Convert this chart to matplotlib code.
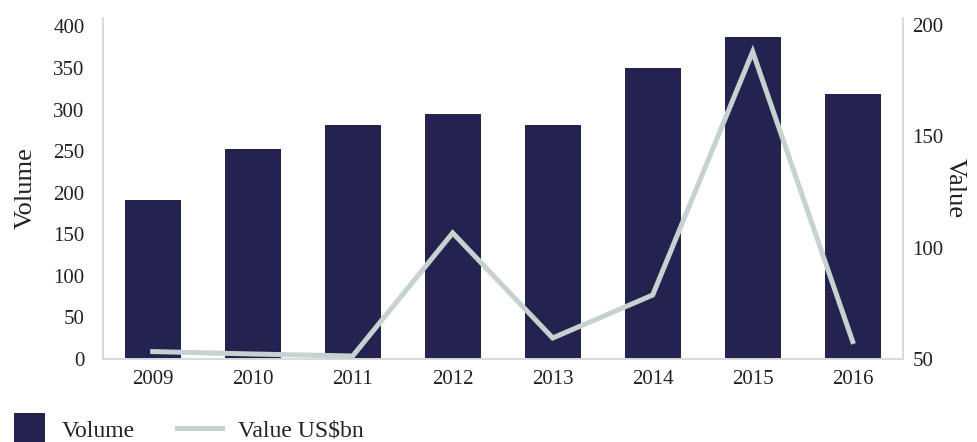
import matplotlib
matplotlib.use("Agg")
import matplotlib.pyplot as plt
from matplotlib.patches import Patch, Rectangle
from matplotlib.lines import Line2D
from matplotlib.legend_handler import HandlerPatch

years = ["2009", "2010", "2011", "2012", "2013", "2014", "2015", "2016"]
volume = [191, 253, 282, 295, 282, 350, 387, 319]
value_usbn = [53.3, 52.2, 51.3, 106.6, 59.4, 78.7, 188, 57.8]
left_ticks = [0, 50, 100, 150, 200, 250, 300, 350, 400]
right_ticks = [50, 100, 150, 200]

bar_color = "#24224f"
line_color = "#c6d2d2"
spine_color = "#d9d9d9"
text_color = "#222222"

plt.rcParams["font.family"] = ["Liberation Serif", "DejaVu Serif"]

fig = plt.figure(figsize=(9.78, 4.42), dpi=100)
ax = fig.add_axes([0.105, 0.188, 0.818, 0.771])
ax2 = ax.twinx()

x = list(range(len(years)))
ax.bar(x, volume, width=0.56, color=bar_color, zorder=2)
ax2.plot(x, value_usbn, color=line_color, linewidth=3.6, solid_joinstyle="miter", zorder=3)

ax.set_xlim(-0.5, 7.5)
ax.set_ylim(0, 410)
ax2.set_ylim(50, 203.1)
ax.set_yticks(left_ticks)
ax2.set_yticks(right_ticks)
ax.set_xticks(x)
ax.set_xticklabels(years)

for a in (ax, ax2):
    a.spines["top"].set_visible(False)
    for s in ("left", "right", "bottom"):
        a.spines[s].set_color(spine_color)
        a.spines[s].set_linewidth(1.2)
    a.tick_params(length=0, labelsize=15, colors=text_color)

ax.tick_params(axis="y", pad=13)
ax.tick_params(axis="x", pad=8)
ax2.tick_params(axis="y", pad=7)

ax.set_ylabel("Volume", fontsize=19, color=text_color, labelpad=12)
ax2.set_ylabel("Value", fontsize=19, color=text_color, rotation=-90, labelpad=16)

ax.set_zorder(ax2.get_zorder() - 1)
ax2.patch.set_visible(False)


def square_patch(legend, orig_handle, xdescent, ydescent, width, height, fontsize):
    h = 23.0
    w = 22.0
    return Rectangle((-xdescent + width - w, -ydescent + (height - h) / 2), w, h)


handles = [Patch(facecolor=bar_color, edgecolor="none"),
           Line2D([0], [0], color=line_color, linewidth=3.6)]
fig.legend(handles, ["Volume", "Value US$bn"], loc="lower left",
           bbox_to_anchor=(0.0, 0.0), ncol=2, frameon=False,
           fontsize=17, handlelength=1.9, handleheight=1.0,
           columnspacing=1.8, handletextpad=0.7, labelcolor=text_color,
           borderaxespad=0.0, borderpad=0.0,
           handler_map={Patch: HandlerPatch(patch_func=square_patch)})

fig.savefig("out.png", dpi=100)
